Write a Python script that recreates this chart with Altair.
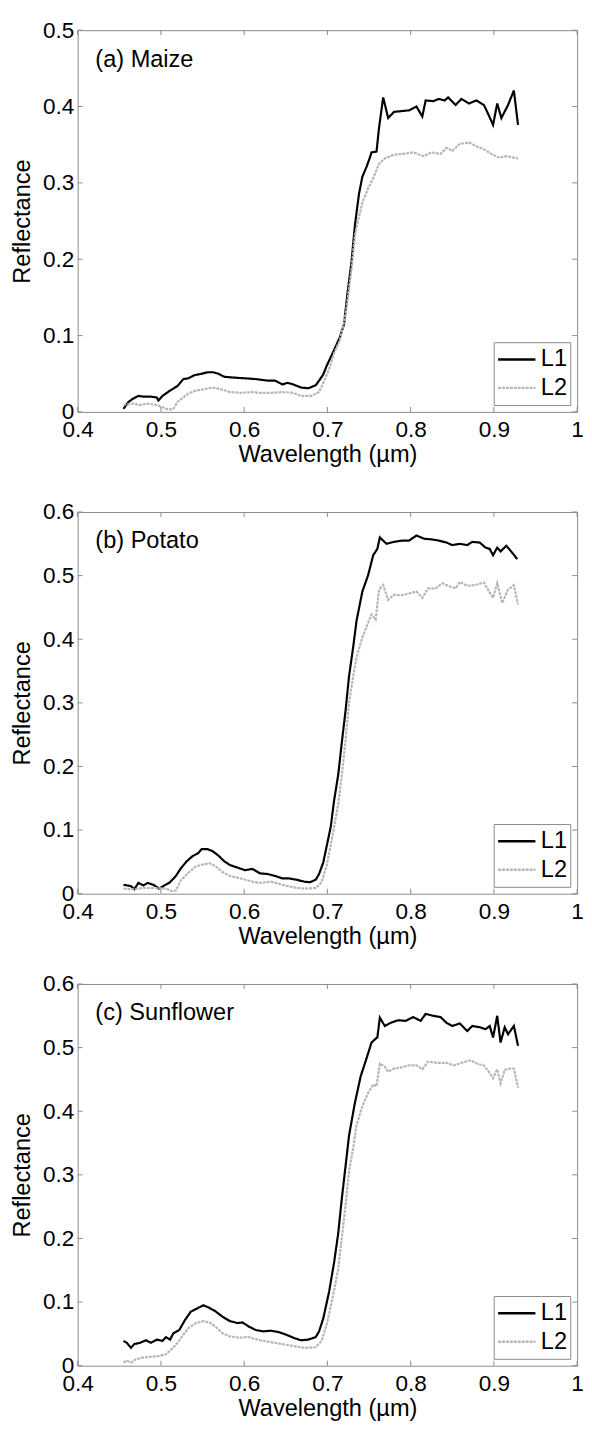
import altair as alt
import pandas as pd

# ---------------- data ----------------
series_names = ["L1", "L2"]
panel_labels = ["(a) Maize", "(b) Potato", "(c) Sunflower"]
x_ticks = [0.4, 0.5, 0.6, 0.7, 0.8, 0.9, 1.0]
y_ticks_a = [0, 0.1, 0.2, 0.3, 0.4, 0.5]
y_ticks_bc = [0, 0.1, 0.2, 0.3, 0.4, 0.5, 0.6]

maize_L1_wl = [0.455, 0.461, 0.466, 0.473, 0.479, 0.488, 0.495, 0.497, 0.502, 0.511, 0.520, 0.527, 0.533, 0.540, 0.549, 0.556, 0.562, 0.569, 0.576, 0.587, 0.601, 0.614, 0.628, 0.637, 0.646, 0.652, 0.659, 0.668, 0.677, 0.686, 0.690, 0.695, 0.699, 0.708, 0.715, 0.720, 0.724, 0.729, 0.733, 0.738, 0.742, 0.747, 0.751, 0.753, 0.759, 0.762, 0.767, 0.773, 0.780, 0.789, 0.798, 0.807, 0.814, 0.818, 0.827, 0.834, 0.841, 0.845, 0.854, 0.861, 0.870, 0.879, 0.888, 0.892, 0.899, 0.904, 0.909, 0.917, 0.924, 0.929]
maize_L1_r = [0.004, 0.013, 0.017, 0.021, 0.020, 0.020, 0.019, 0.015, 0.021, 0.028, 0.034, 0.043, 0.044, 0.048, 0.050, 0.052, 0.052, 0.050, 0.046, 0.045, 0.044, 0.043, 0.041, 0.041, 0.036, 0.038, 0.036, 0.032, 0.031, 0.035, 0.041, 0.049, 0.060, 0.081, 0.098, 0.115, 0.154, 0.197, 0.244, 0.286, 0.308, 0.321, 0.333, 0.340, 0.341, 0.372, 0.412, 0.385, 0.393, 0.394, 0.395, 0.400, 0.387, 0.408, 0.407, 0.410, 0.408, 0.412, 0.402, 0.410, 0.404, 0.408, 0.402, 0.393, 0.376, 0.404, 0.385, 0.402, 0.421, 0.376]
maize_L2_wl = [0.455, 0.466, 0.475, 0.484, 0.495, 0.502, 0.509, 0.515, 0.520, 0.527, 0.533, 0.542, 0.553, 0.562, 0.571, 0.583, 0.596, 0.610, 0.619, 0.632, 0.646, 0.659, 0.668, 0.681, 0.690, 0.695, 0.702, 0.708, 0.715, 0.722, 0.729, 0.733, 0.738, 0.742, 0.749, 0.755, 0.762, 0.769, 0.780, 0.791, 0.803, 0.816, 0.825, 0.836, 0.843, 0.850, 0.859, 0.870, 0.879, 0.888, 0.897, 0.906, 0.915, 0.929]
maize_L2_r = [0.009, 0.011, 0.009, 0.011, 0.009, 0.006, 0.003, 0.004, 0.013, 0.019, 0.024, 0.028, 0.030, 0.032, 0.030, 0.026, 0.025, 0.026, 0.025, 0.025, 0.026, 0.025, 0.021, 0.021, 0.026, 0.038, 0.056, 0.077, 0.094, 0.128, 0.188, 0.231, 0.256, 0.274, 0.293, 0.306, 0.325, 0.332, 0.337, 0.338, 0.340, 0.335, 0.340, 0.338, 0.346, 0.342, 0.351, 0.353, 0.348, 0.344, 0.338, 0.333, 0.335, 0.332]

potato_L1_wl = [0.455, 0.464, 0.468, 0.473, 0.479, 0.484, 0.491, 0.498, 0.504, 0.511, 0.518, 0.524, 0.531, 0.538, 0.545, 0.549, 0.556, 0.562, 0.569, 0.576, 0.583, 0.592, 0.601, 0.610, 0.619, 0.628, 0.637, 0.646, 0.654, 0.663, 0.672, 0.679, 0.686, 0.690, 0.695, 0.699, 0.704, 0.708, 0.713, 0.717, 0.722, 0.726, 0.731, 0.735, 0.742, 0.749, 0.755, 0.760, 0.763, 0.771, 0.780, 0.789, 0.798, 0.807, 0.816, 0.825, 0.834, 0.843, 0.850, 0.859, 0.868, 0.874, 0.883, 0.890, 0.895, 0.899, 0.904, 0.908, 0.915, 0.922, 0.928]
potato_L1_r = [0.014, 0.012, 0.007, 0.017, 0.013, 0.017, 0.014, 0.008, 0.013, 0.018, 0.028, 0.040, 0.051, 0.059, 0.064, 0.070, 0.070, 0.067, 0.060, 0.051, 0.045, 0.041, 0.037, 0.039, 0.032, 0.031, 0.028, 0.024, 0.024, 0.022, 0.019, 0.018, 0.022, 0.031, 0.049, 0.074, 0.105, 0.146, 0.187, 0.234, 0.290, 0.342, 0.388, 0.429, 0.475, 0.501, 0.532, 0.542, 0.560, 0.550, 0.553, 0.555, 0.555, 0.563, 0.558, 0.557, 0.555, 0.552, 0.548, 0.550, 0.548, 0.553, 0.552, 0.544, 0.542, 0.532, 0.544, 0.538, 0.547, 0.536, 0.526]
potato_L2_wl = [0.455, 0.466, 0.479, 0.493, 0.506, 0.513, 0.518, 0.524, 0.533, 0.542, 0.551, 0.558, 0.565, 0.574, 0.583, 0.596, 0.610, 0.619, 0.632, 0.646, 0.659, 0.672, 0.686, 0.693, 0.699, 0.706, 0.713, 0.717, 0.722, 0.726, 0.731, 0.735, 0.742, 0.749, 0.753, 0.758, 0.762, 0.767, 0.773, 0.780, 0.789, 0.798, 0.807, 0.814, 0.821, 0.830, 0.838, 0.847, 0.854, 0.859, 0.868, 0.877, 0.888, 0.892, 0.899, 0.904, 0.910, 0.917, 0.924, 0.929]
potato_L2_r = [0.008, 0.007, 0.009, 0.009, 0.008, 0.004, 0.005, 0.021, 0.033, 0.043, 0.046, 0.048, 0.044, 0.034, 0.028, 0.024, 0.019, 0.017, 0.019, 0.014, 0.010, 0.008, 0.009, 0.018, 0.044, 0.090, 0.141, 0.182, 0.244, 0.300, 0.342, 0.372, 0.403, 0.426, 0.439, 0.431, 0.478, 0.485, 0.462, 0.470, 0.469, 0.472, 0.475, 0.465, 0.480, 0.480, 0.488, 0.483, 0.480, 0.490, 0.484, 0.485, 0.489, 0.480, 0.465, 0.488, 0.457, 0.478, 0.485, 0.455]

sunflower_L1_wl = [0.455, 0.459, 0.464, 0.468, 0.475, 0.482, 0.488, 0.495, 0.502, 0.506, 0.511, 0.515, 0.522, 0.529, 0.536, 0.542, 0.551, 0.558, 0.565, 0.574, 0.583, 0.592, 0.598, 0.605, 0.614, 0.623, 0.632, 0.641, 0.650, 0.659, 0.668, 0.677, 0.686, 0.690, 0.695, 0.702, 0.708, 0.713, 0.717, 0.722, 0.726, 0.733, 0.740, 0.747, 0.753, 0.758, 0.760, 0.763, 0.769, 0.776, 0.785, 0.794, 0.803, 0.812, 0.818, 0.827, 0.836, 0.843, 0.850, 0.859, 0.868, 0.874, 0.883, 0.890, 0.895, 0.899, 0.904, 0.908, 0.913, 0.917, 0.924, 0.929]
sunflower_L1_r = [0.039, 0.036, 0.028, 0.034, 0.036, 0.040, 0.036, 0.041, 0.039, 0.045, 0.041, 0.051, 0.056, 0.072, 0.085, 0.089, 0.095, 0.091, 0.086, 0.077, 0.070, 0.067, 0.068, 0.062, 0.056, 0.054, 0.055, 0.053, 0.049, 0.044, 0.040, 0.041, 0.045, 0.054, 0.074, 0.116, 0.162, 0.208, 0.259, 0.316, 0.362, 0.413, 0.455, 0.483, 0.508, 0.514, 0.516, 0.547, 0.534, 0.539, 0.543, 0.542, 0.548, 0.542, 0.553, 0.550, 0.548, 0.539, 0.534, 0.538, 0.526, 0.534, 0.532, 0.529, 0.534, 0.516, 0.550, 0.508, 0.532, 0.521, 0.534, 0.503]
sunflower_L2_wl = [0.455, 0.459, 0.464, 0.470, 0.479, 0.488, 0.497, 0.506, 0.513, 0.520, 0.527, 0.533, 0.542, 0.551, 0.558, 0.565, 0.574, 0.583, 0.594, 0.605, 0.619, 0.632, 0.646, 0.659, 0.672, 0.686, 0.693, 0.699, 0.706, 0.713, 0.717, 0.722, 0.726, 0.731, 0.735, 0.742, 0.749, 0.755, 0.759, 0.763, 0.769, 0.773, 0.780, 0.789, 0.798, 0.807, 0.814, 0.821, 0.832, 0.843, 0.852, 0.861, 0.872, 0.881, 0.888, 0.895, 0.899, 0.904, 0.908, 0.913, 0.919, 0.924, 0.929]
sunflower_L2_r = [0.005, 0.008, 0.005, 0.010, 0.013, 0.014, 0.015, 0.018, 0.026, 0.036, 0.049, 0.059, 0.067, 0.070, 0.068, 0.062, 0.051, 0.046, 0.044, 0.045, 0.040, 0.037, 0.034, 0.031, 0.028, 0.029, 0.039, 0.064, 0.105, 0.152, 0.198, 0.254, 0.306, 0.342, 0.378, 0.408, 0.429, 0.442, 0.439, 0.475, 0.470, 0.462, 0.467, 0.469, 0.472, 0.472, 0.466, 0.478, 0.476, 0.476, 0.472, 0.476, 0.480, 0.474, 0.472, 0.460, 0.452, 0.466, 0.444, 0.465, 0.467, 0.467, 0.437]

# ---------------- styling ----------------
FONT = "Liberation Sans"
BOX = "#8a8a8a"
W, H = 509, 389
TL = 5  # inward tick length (px)


def make_df(l1_wl, l1_r, l2_wl, l2_r):
    a = pd.DataFrame({"wl": l1_wl, "r": l1_r, "series": series_names[0]})
    b = pd.DataFrame({"wl": l2_wl, "r": l2_r, "series": series_names[1]})
    return pd.concat([a, b], ignore_index=True)


def panel(df, label, ymax, yticks):
    xs = alt.Scale(domain=[0.4, 1.0], nice=False, zero=False)
    ys = alt.Scale(domain=[0, ymax], nice=False, zero=False)
    x_axis = alt.Axis(
        values=x_ticks, format="~g", title="Wavelength (µm)", ticks=False, tickSize=0,
        domain=False, grid=False, labelPadding=7, titlePadding=2, labelFlush=False,
        labelOverlap=False, labelFontSize=23, titleFontSize=24, labelFont=FONT,
        titleFont=FONT, labelColor="black", titleColor="black", titleFontWeight="normal")
    y_axis = alt.Axis(
        values=yticks, format="~g", title="Reflectance", ticks=False, tickSize=0,
        domain=False, grid=False, labelPadding=4, titlePadding=8, labelFlush=False,
        labelOverlap=False, labelFontSize=23, titleFontSize=24, labelFont=FONT,
        titleFont=FONT, labelColor="black", titleColor="black", titleFontWeight="normal")
    lines = alt.Chart(df).mark_line(strokeWidth=2.2).encode(
        x=alt.X("wl:Q", scale=xs, axis=x_axis, title="Wavelength (µm)"),
        y=alt.Y("r:Q", scale=ys, axis=y_axis, title="Reflectance"),
        color=alt.Color("series:N", scale=alt.Scale(domain=series_names, range=["#000000", "#b6b6b6"]),
                        legend=alt.Legend(title=None, orient="bottom-right", offset=7,
                                          fillColor="white", strokeColor=BOX, padding=3,
                                          symbolType="stroke", symbolSize=1444, clipHeight=29,
                                          symbolStrokeWidth=2.5, labelFontSize=24,
                                          labelFont=FONT, labelOffset=4, rowPadding=0,
                                          labelColor="black")),
        strokeDash=alt.StrokeDash("series:N", scale=alt.Scale(domain=series_names,
                                                               range=[[1, 0], [3, 1]]),
                                  legend=None),
    )
    xt = pd.DataFrame({"v": x_ticks})
    yt = pd.DataFrame({"v": yticks})
    xtick_top = alt.Chart(xt).mark_rule(color=BOX, strokeWidth=1).encode(
        x=alt.X("v:Q", scale=xs, axis=x_axis, title="Wavelength (µm)"), y=alt.value(0), y2=alt.value(TL))
    xtick_bot = alt.Chart(xt).mark_rule(color=BOX, strokeWidth=1).encode(
        x=alt.X("v:Q", scale=xs, axis=x_axis, title="Wavelength (µm)"), y=alt.value(H - TL), y2=alt.value(H))
    ytick_left = alt.Chart(yt).mark_rule(color=BOX, strokeWidth=1).encode(
        y=alt.Y("v:Q", scale=ys, axis=y_axis, title="Reflectance"), x=alt.value(0), x2=alt.value(TL))
    ytick_right = alt.Chart(yt).mark_rule(color=BOX, strokeWidth=1).encode(
        y=alt.Y("v:Q", scale=ys, axis=y_axis, title="Reflectance"), x=alt.value(W - TL), x2=alt.value(W))
    txt = alt.Chart(pd.DataFrame({"label": [label]})).mark_text(
        align="left", baseline="middle", fontSize=24, font=FONT, color="black"
    ).encode(x=alt.value(18), y=alt.value(30), text="label:N")
    return alt.layer(lines, xtick_top, xtick_bot, ytick_left, ytick_right, txt).properties(
        width=W, height=H)


pa = panel(make_df(maize_L1_wl, maize_L1_r, maize_L2_wl, maize_L2_r), panel_labels[0], 0.5, y_ticks_a)
pb = panel(make_df(potato_L1_wl, potato_L1_r, potato_L2_wl, potato_L2_r), panel_labels[1], 0.6, y_ticks_bc)
pc = panel(make_df(sunflower_L1_wl, sunflower_L1_r, sunflower_L2_wl, sunflower_L2_r), panel_labels[2], 0.6, y_ticks_bc)

inner = alt.vconcat(pb, pc, spacing=23).resolve_legend(
    color="independent", strokeDash="independent").resolve_scale(
    color="independent", strokeDash="independent")
chart = alt.vconcat(pa, inner, spacing=33).resolve_legend(
    color="independent", strokeDash="independent").resolve_scale(
    color="independent", strokeDash="independent").properties(
    padding={"left": 2, "top": -3, "right": 0, "bottom": 0}, background="white"
).configure_view(stroke=BOX, strokeWidth=1)

chart.save("out.html", embed_options={"renderer": "svg", "actions": False})
